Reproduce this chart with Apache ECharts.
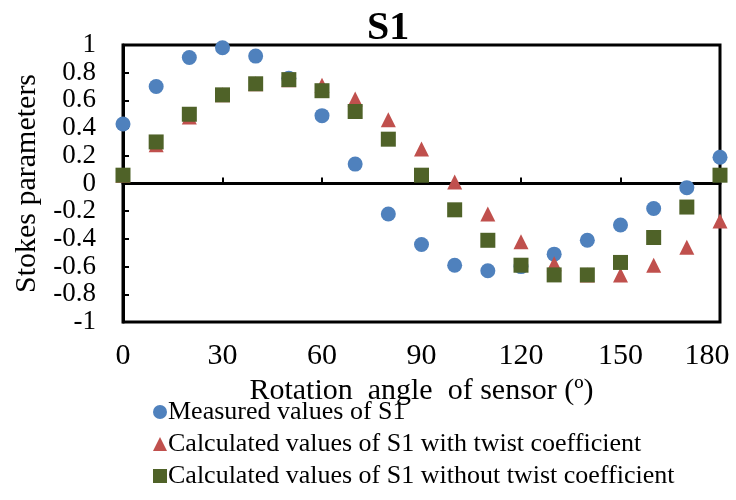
<!DOCTYPE html>
<html><head><meta charset="utf-8">
<script src="https://cdn.jsdelivr.net/npm/echarts@6/dist/echarts.min.js"></script>
<style>html,body{margin:0;padding:0;background:#fff}#c{width:736px;height:500px}</style>
</head><body><div id="c"></div>
<script>
const angles = [0,10,20,30,40,50,60,70,80,90,100,110,120,130,140,150,160,170,180];
const measured = [0.43,0.70,0.91,0.98,0.92,0.76,0.49,0.14,-0.22,-0.44,-0.59,-0.63,-0.60,-0.51,-0.41,-0.30,-0.18,-0.03,0.19];
const withTwist = [0.06,0.28,0.48,0.64,0.72,0.75,0.71,0.61,0.46,0.25,0.01,-0.22,-0.42,-0.58,-0.66,-0.66,-0.59,-0.46,-0.27];
const withoutTwist = [0.06,0.30,0.50,0.64,0.72,0.75,0.67,0.52,0.32,0.06,-0.19,-0.41,-0.59,-0.66,-0.66,-0.57,-0.39,-0.17,0.06];
const seriesNames = ['Measured values of S1','Calculated values of S1 with twist coefficient','Calculated values of S1 without twist coefficient'];

const F = '"Liberation Serif","Times New Roman",serif';
const pair = arr => angles.map((a,i)=>[a,arr[i]]);
const chart = echarts.init(document.getElementById('c'));
chart.setOption({
  animation:false,
  title:{text:'S1',left:362,top:4,textStyle:{fontFamily:F,fontWeight:'bold',fontSize:40,color:'#000'}},
  grid:{left:123,right:16,top:45,bottom:178,show:true,borderColor:'#000',borderWidth:3},
  xAxis:{type:'value',min:0,max:180,interval:30,
    name:'Rotation  angle  of sensor (º)',nameLocation:'middle',nameGap:42,
    nameTextStyle:{fontFamily:F,fontSize:30,color:'#000'},
    axisLine:{lineStyle:{color:'#000',width:3}},
    axisTick:{inside:true,length:6,lineStyle:{color:'#000',width:2}},
    axisLabel:{fontFamily:F,fontSize:30,color:'#000',margin:19,
      formatter:v=>v===180?'{last|180}':String(v),
      rich:{last:{fontFamily:F,fontSize:30,color:'#000',padding:[0,26,0,0]}}},
    splitLine:{show:false}},
  yAxis:{type:'value',min:-1,max:1,interval:0.2,
    name:'Stokes parameters',nameLocation:'middle',nameGap:75,
    nameTextStyle:{fontFamily:F,fontSize:30,color:'#000'},
    axisLine:{lineStyle:{color:'#000',width:3}},
    axisTick:{inside:true,length:6,lineStyle:{color:'#000',width:2}},
    axisLabel:{fontFamily:F,fontSize:27,color:'#000',margin:27,showMinLabel:true,showMaxLabel:true,
      formatter:v=>String(+v.toFixed(1))},
    splitLine:{show:false}},
  legend:{orient:'vertical',left:148,top:394,itemGap:6,itemWidth:14,itemHeight:14,
    textStyle:{fontFamily:F,fontSize:26,lineHeight:26,color:'#000',padding:[0,0,0,-4]},
    data:[{name:seriesNames[0],icon:'circle'},{name:seriesNames[1],icon:'triangle'},{name:seriesNames[2],icon:'rect'}]},
  series:[
    {name:seriesNames[0],type:'scatter',symbol:'circle',symbolSize:15,itemStyle:{color:'#4F81BD',opacity:1},data:pair(measured),z:2},
    {name:seriesNames[1],type:'scatter',symbol:'triangle',symbolSize:15,itemStyle:{color:'#C0504D',opacity:1},data:pair(withTwist),z:3},
    {name:seriesNames[2],type:'scatter',symbol:'rect',symbolSize:15,itemStyle:{color:'#4F6228',opacity:1},data:pair(withoutTwist),z:4}
  ]
});
</script></body></html>
